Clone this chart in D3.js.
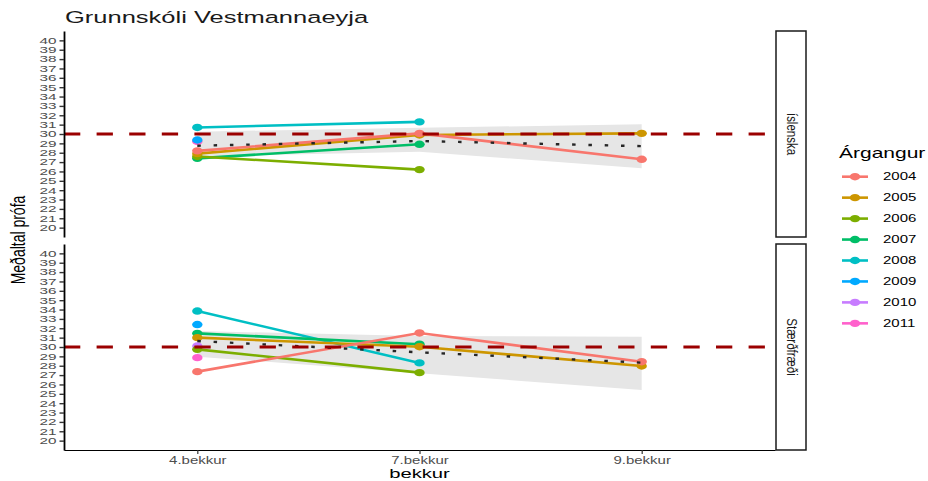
<!DOCTYPE html>
<html>
<head>
<meta charset="utf-8">
<script src="https://cdn.jsdelivr.net/npm/d3@7"></script>
<style>
  body { margin: 0; background: #fff; }
  text { font-family: "Liberation Sans", Arial, sans-serif; }
</style>
</head>
<body>
<script>
// General constants
const WIDTH = 928;
const HEIGHT = 481;
const SX = 1.5;   // the picture is stretched sideways, so text is too

/** Categories */
const bekkir = ["4.bekkur", "7.bekkur", "9.bekkur"];
const argangar = ["2004", "2005", "2006", "2007", "2008", "2009", "2010", "2011"];
const litir = ["#F8766D", "#CD9600", "#7CAE00", "#00BE67", "#00BFC4", "#00A9FF", "#C77CFF", "#FF61CC"];
const greinar = ["íslenska", "Stærðfræði"];
const yTicks = d3.range(20, 41);

/** Meðaltal per árgangur (rows follow argangar, columns follow bekkir) */
const islenska = [
    [28.2, 30.07, 27.3],
    [27.9, 29.9, 30.07],
    [27.6, 26.2, null],
    [27.4, 28.9, null],
    [30.7, 31.3, null],
    [29.36, null, null],
    [null, null, null],
    [29.2, null, null]
];
const staerdfraedi = [
    [27.37, 31.5, 28.43],
    [31.0, 30.03, 27.97],
    [29.75, 27.26, null],
    [31.46, 30.3, null],
    [33.84, 28.3, null],
    [32.4, null, null],
    [30.1, null, null],
    [28.86, null, null]
];

/** Smoother line and its band */
const islMedal = [28.75, 29.25, 28.7];
const islLagt = [27.6, 28.1, 26.35];
const islHatt = [30.25, 30.67, 31.03];
const staMedal = [30.64, 29.43, 28.33];
const staLagt = [28.97, 27.2, 25.4];
const staHatt = [31.7, 31.17, 31.1];

const vidmid = 30;

/** Layout */
const left = 64, right = 775;
const panels = [
    {top: 31, bottom: 237, gildi: islenska, medal: islMedal, lagt: islLagt, hatt: islHatt},
    {top: 244, bottom: 450, gildi: staerdfraedi, medal: staMedal, lagt: staLagt, hatt: staHatt}
];

const svg = d3.select("body")
    .append("svg")
    .attr("width", WIDTH)
    .attr("height", HEIGHT);

var x = d3.scalePoint()
    .domain(bekkir)
    .range([left, right])
    .padding(0.6);

function txt(g, px, py, s, size, anchor, fill, rot, sx) {
    return g.append("text")
        .attr("transform", `translate(${px},${py}) scale(${sx || SX},1)` + (rot ? ` rotate(${rot})` : ""))
        .attr("text-anchor", anchor)
        .attr("font-size", size)
        .attr("fill", fill)
        .text(s);
}

/** Draw each facet */
panels.forEach(function(p, pi) {
    let y = d3.scaleLinear().domain([19, 41]).range([p.bottom, p.top]);
    let g = svg.append("g");

    // band
    let idx = [0, 1, 2];
    g.append("path")
        .datum(idx)
        .attr("fill", "#e6e6e6")
        .attr("d", d3.area()
            .x(i => x(bekkir[i]))
            .y0(i => y(p.lagt[i]))
            .y1(i => y(p.hatt[i])));

    // series lines + points, drawn last year first
    for (let k = argangar.length - 1; k >= 0; k--) {
        let pts = p.gildi[k]
            .map((v, i) => ({b: bekkir[i], v: v}))
            .filter(d => d.v !== null);
        if (pts.length > 1) {
            g.append("path")
                .datum(pts)
                .attr("fill", "none")
                .attr("stroke", litir[k])
                .attr("stroke-width", 2.6)
                .attr("d", d3.line().x(d => x(d.b)).y(d => y(d.v)));
        }
        g.selectAll(null)
            .data(pts)
            .enter()
            .append("ellipse")
            .attr("cx", d => x(d.b))
            .attr("cy", d => y(d.v))
            .attr("rx", 5.2)
            .attr("ry", 3.7)
            .attr("fill", litir[k]);
    }

    // dotted mean
    g.append("path")
        .datum(idx)
        .attr("fill", "none")
        .attr("stroke", "#262626")
        .attr("stroke-width", 2.4)
        .attr("stroke-dasharray", "3.5,12.8")
        .attr("d", d3.line().x(i => x(bekkir[i])).y(i => y(p.medal[i])));

    // reference line at 30
    g.append("line")
        .attr("x1", left).attr("x2", right)
        .attr("y1", y(vidmid)).attr("y2", y(vidmid))
        .attr("stroke", "#9b0000")
        .attr("stroke-width", 3)
        .attr("stroke-dasharray", "16.3,16.3");

    // y axis
    let ax = g.append("g")
        .attr("transform", `translate(${left},0)`)
        .call(d3.axisLeft(y).tickValues(yTicks).tickSize(4.5).tickSizeOuter(0));
    ax.select(".domain").attr("stroke", "#000").attr("stroke-width", 1.8);
    ax.selectAll(".tick line").attr("stroke", "#333").attr("stroke-width", 1.4);
    ax.selectAll(".tick text")
        .attr("x", -4.4)
        .attr("transform", "scale(1.7,1)")
        .attr("font-size", 9)
        .attr("font-family", "Liberation Sans, Arial, sans-serif")
        .attr("fill", "#4d4d4d");

    // strip
    svg.append("rect")
        .attr("x", right + 1)
        .attr("y", p.top)
        .attr("width", 30)
        .attr("height", p.bottom - p.top)
        .attr("fill", "#fff")
        .attr("stroke", "#1a1a1a")
        .attr("stroke-width", 1.5);
    txt(svg, right + 16 - 4, (p.top + p.bottom) / 2, greinar[pi], 11.5, "middle", "#1a1a1a", 90, 1.25);
});

/** x axis, bottom panel only */
var xa = svg.append("g")
    .attr("transform", `translate(0,${panels[1].bottom})`)
    .call(d3.axisBottom(x).tickSize(4).tickSizeOuter(0));
xa.select(".domain").attr("stroke", "#000").attr("stroke-width", 1.2);
xa.selectAll(".tick line").attr("stroke", "#333").attr("stroke-width", 1.2);
xa.selectAll(".tick text")
    .attr("transform", `scale(${SX},1)`)
    .attr("y", 7)
    .attr("font-size", 10)
    .attr("font-family", "Liberation Sans, Arial, sans-serif")
    .attr("fill", "#4d4d4d");

/** Titles */
txt(svg, 65, 23, "Grunnskóli Vestmannaeyja", 17, "start", "#1a1a1a");
txt(svg, (left + right) / 2, 478, "bekkur", 13.5, "middle", "#000");
txt(svg, 25, 240, "Meðaltal prófa", 14, "middle", "#000", -90);

/** Legend */
var leg = svg.append("g");
txt(leg, 839, 158, "Árgangur", 14, "start", "#000");
argangar.forEach(function(a, i) {
    let cy = 176.7 + i * 20.95;
    leg.append("line")
        .attr("x1", 842).attr("x2", 868)
        .attr("y1", cy).attr("y2", cy)
        .attr("stroke", litir[i])
        .attr("stroke-width", 2.6);
    leg.append("ellipse")
        .attr("cx", 855).attr("cy", cy)
        .attr("rx", 5.2).attr("ry", 3.7)
        .attr("fill", litir[i]);
    txt(leg, 883, cy + 3.6, a, 10, "start", "#000");
});
</script>
</body>
</html>
